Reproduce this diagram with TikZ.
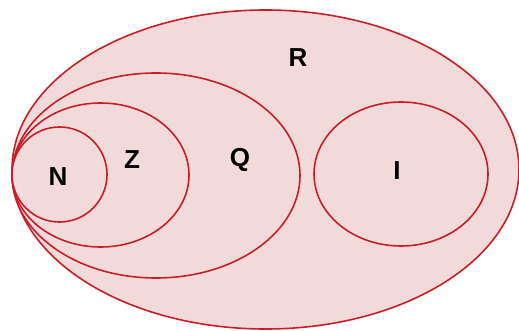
\documentclass[tikz,border=0pt]{standalone}
\usepackage{fontspec}
\setmainfont{Liberation Sans}
\begin{document}
\begin{tikzpicture}[x=1pt,y=-1pt,
  setfill/.style={fill=setpink,draw=setred,line width=1.6pt},
  setlabel/.style={font=\bfseries\fontsize{26}{26}\selectfont,text=black,inner sep=0pt}]
\definecolor{setpink}{HTML}{F2DADB}
\definecolor{setred}{HTML}{C81E28}
\useasboundingbox (0,0) rectangle (519,331);
\path[setfill] (265.5,169.5) ellipse [x radius=253.5, y radius=159.5];
\path[setfill] (156,175.5) ellipse [x radius=144, y radius=102.5];
\path[setfill] (100.5,175) ellipse [x radius=88.5, y radius=72];
\path[setfill] (59.5,174.5) ellipse [x radius=47.5, y radius=47.5];
\path[setfill] (401,174) ellipse [x radius=87, y radius=72];
\node[setlabel] (R) at (298,58) {R};
\node[setlabel] (Q) at (240,160) {Q};
\node[setlabel] (Z) at (132,160) {Z};
\node[setlabel] (N) at (58,177) {N};
\node[setlabel] (I) at (397,171) {I};
\end{tikzpicture}
\end{document}
